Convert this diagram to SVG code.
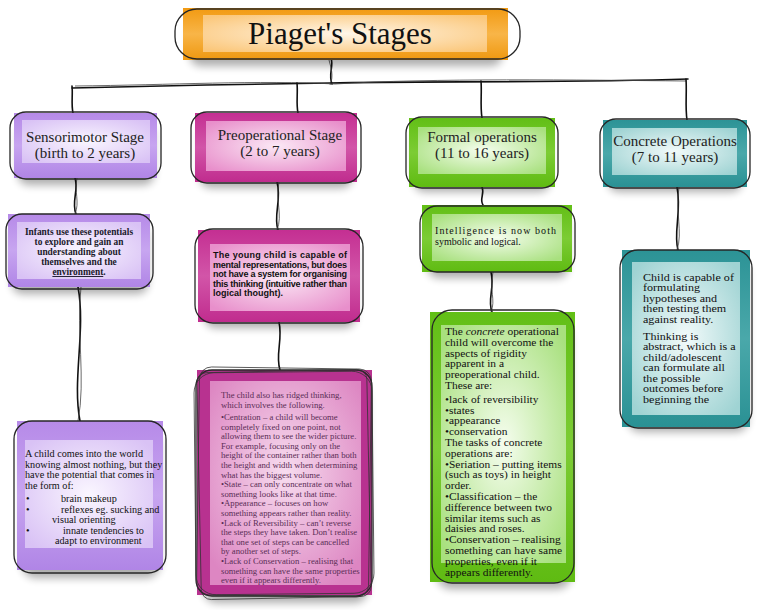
<svg xmlns="http://www.w3.org/2000/svg" width="765" height="610" viewBox="0 0 765 610">
<style>
.ol{fill:none;stroke:#262626;stroke-width:1.3}
.ol2{fill:none;stroke:#333;stroke-width:0.8}
.sh{fill:#000;opacity:0.32}
.cn{fill:none;stroke:#111;stroke-width:1.6;stroke-linecap:round}
.cn2{fill:none;stroke:#444;stroke-width:0.8}
</style>
<defs>
<filter id="blur" x="-20%" y="-20%" width="140%" height="140%"><feGaussianBlur stdDeviation="4"/></filter>
<filter id="soft" x="-5%" y="-5%" width="110%" height="110%"><feGaussianBlur stdDeviation="0.35"/></filter>
<radialGradient id="gP" cx="50%" cy="50%" r="65%"><stop offset="0" stop-color="#faf6ff"/><stop offset="1" stop-color="#d9c2f5"/></radialGradient>
<radialGradient id="gM" cx="50%" cy="50%" r="65%"><stop offset="0" stop-color="#fbe8f5"/><stop offset="1" stop-color="#e88fcb"/></radialGradient>
<radialGradient id="gG" cx="50%" cy="50%" r="65%"><stop offset="0" stop-color="#f5fdee"/><stop offset="1" stop-color="#a8e07e"/></radialGradient>
<radialGradient id="gT" cx="50%" cy="50%" r="65%"><stop offset="0" stop-color="#f2fafa"/><stop offset="1" stop-color="#9fd3d3"/></radialGradient>
<radialGradient id="gO" cx="50%" cy="50%" r="65%"><stop offset="0" stop-color="#fff6e8"/><stop offset="1" stop-color="#fbc77a"/></radialGradient>
<radialGradient id="gMB" cx="50%" cy="45%" r="65%"><stop offset="0" stop-color="#f7dcef"/><stop offset="1" stop-color="#dd86c2"/></radialGradient>
<linearGradient id="oP" x1="0" y1="0" x2="0" y2="1"><stop offset="0" stop-color="#b68ae8"/><stop offset="0.5" stop-color="#c7a5f0"/><stop offset="1" stop-color="#b085e6"/></linearGradient>
<linearGradient id="oM" x1="0" y1="0" x2="0" y2="1"><stop offset="0" stop-color="#c42f92"/><stop offset="0.5" stop-color="#d255a8"/><stop offset="1" stop-color="#c02c8e"/></linearGradient>
<linearGradient id="oG" x1="0" y1="0" x2="0" y2="1"><stop offset="0" stop-color="#62bf16"/><stop offset="0.5" stop-color="#7ccc34"/><stop offset="1" stop-color="#5fbb12"/></linearGradient>
<linearGradient id="oT" x1="0" y1="0" x2="0" y2="1"><stop offset="0" stop-color="#2c9396"/><stop offset="0.5" stop-color="#4aa8aa"/><stop offset="1" stop-color="#2a9194"/></linearGradient>
<linearGradient id="oO" x1="0" y1="0" x2="0" y2="1"><stop offset="0" stop-color="#f29a12"/><stop offset="0.5" stop-color="#f8b548"/><stop offset="1" stop-color="#ef9810"/></linearGradient>
</defs>
<rect width="765" height="610" fill="#fff"/>

<g id="connectors">
<path class="cn" d="M331,58 C334,66 328,74 332,84"/>
<path class="cn2" d="M329,60 C331,68 334,76 330,85"/>
<path class="cn" d="M72,88 C150,86 250,84 330,83 C420,81 560,83 688,79"/>
<path class="cn2" d="M75,86 C170,85 260,80 335,84 C430,78 580,80 686,81"/>
<path class="cn" d="M72,86 C73,95 71,104 73,113"/>
<path class="cn" d="M297,83 C298,93 296,104 298,113"/>
<path class="cn" d="M481,81 C482,93 480,106 482,118"/>
<path class="cn" d="M686,79 C687,93 685,106 687,120"/>
<path class="cn" d="M75,178 C79,190 71,202 76,214"/>
<path class="cn2" d="M77,178 C74,192 80,202 75,214"/>
<path class="cn" d="M78,287 C86,330 72,380 80,421"/>
<path class="cn2" d="M81,287 C76,330 86,380 78,421"/>
<path class="cn" d="M277,182 C282,200 273,215 278,230"/>
<path class="cn2" d="M279,182 C275,200 283,215 277,230"/>
<path class="cn" d="M279,322 C283,340 275,355 280,370"/>
<path class="cn" d="M482,187 C485,194 479,199 483,205"/>
<path class="cn" d="M491,272 C495,288 487,300 492,312"/>
<path class="cn2" d="M493,272 C489,290 496,300 491,312"/>
<path class="cn" d="M677,187 C682,212 673,232 678,250"/>
<path class="cn2" d="M679,187 C675,212 683,232 677,250"/>
</g>

<g id="title">
<rect class="sh" x="190" y="20" width="312" height="46" rx="10" filter="url(#blur)"/>
<rect x="183" y="8" width="325" height="52" fill="url(#oO)"/>
<rect x="203" y="15" width="284" height="37" fill="url(#gO)"/>
<rect class="ol" x="175" y="9" width="345" height="50" rx="22"/>
<text x="340" y="44" font-family="Liberation Serif,'Times New Roman',serif" font-size="31" fill="#111" text-anchor="middle">Piaget's Stages</text>
</g>

<g id="sensorimotor">
<rect class="sh" x="18" y="125" width="136" height="60" rx="10" filter="url(#blur)"/>
<rect x="14" y="113" width="143" height="65" fill="url(#oP)"/>
<rect x="22" y="120" width="128" height="43" fill="url(#gP)"/>
<rect class="ol" x="10" y="112" width="151" height="67" rx="16"/>
<g font-family="Liberation Serif,'Times New Roman',serif" font-size="15" fill="#222" text-anchor="middle">
<text x="85" y="142">Sensorimotor Stage</text>
<text x="85" y="158">(birth to 2 years)</text>
</g>
</g>

<g id="sensorimotor-infants">
<rect class="sh" x="12" y="226" width="136" height="68" rx="10" filter="url(#blur)"/>
<rect x="8" y="214" width="142" height="73" fill="url(#oP)"/>
<rect x="17" y="222" width="124" height="57" fill="url(#gP)"/>
<rect class="ol" x="6" y="214" width="147" height="75" rx="16"/>
<g font-family="Liberation Serif,'Times New Roman',serif" font-size="9.4" font-weight="bold" text-anchor="middle" fill="#1a1a2a">
<text x="79" y="235">Infants use these potentials</text>
<text x="79" y="245">to explore and gain an</text>
<text x="79" y="255">understanding about</text>
<text x="79" y="265">themselves and the</text>
<text x="79" y="275"><tspan text-decoration="underline">environment</tspan>.</text>
</g>
</g>

<g id="sensorimotor-child">
<rect class="sh" x="22" y="432" width="138" height="146" rx="14" filter="url(#blur)"/>
<rect x="17" y="421" width="146" height="149" fill="url(#oP)"/>
<rect x="25" y="440" width="128" height="108" fill="url(#gP)"/>
<rect class="ol" x="14" y="421" width="152" height="152" rx="18"/>
<g font-family="Liberation Serif,'Times New Roman',serif" font-size="10.2" fill="#111">
<text x="25" y="457">A child comes into the world</text>
<text x="25" y="467.5">knowing almost nothing, but they</text>
<text x="25" y="478">have the potential that comes in</text>
<text x="25" y="488.5">the form of:</text>
<text x="26" y="502">•</text><text x="61" y="502">brain makeup</text>
<text x="26" y="512.5">•</text><text x="61" y="512.5">reflexes eg. sucking and</text>
<text x="52" y="523">visual orienting</text>
<text x="26" y="533.5">•</text><text x="63" y="533.5">innate tendencies to</text>
<text x="55" y="544">adapt to environment</text>
</g>
</g>

<g id="preoperational">
<rect class="sh" x="200" y="125" width="152" height="63" rx="10" filter="url(#blur)"/>
<rect x="195" y="113" width="162" height="69" fill="url(#oM)"/>
<rect x="206" y="121" width="140" height="50" fill="url(#gM)"/>
<rect class="ol" x="191" y="112" width="170" height="71" rx="16"/>
<g font-family="Liberation Serif,'Times New Roman',serif" font-size="15" fill="#222" text-anchor="middle">
<text x="280" y="140">Preoperational Stage</text>
<text x="280" y="156">(2 to 7 years)</text>
</g>
</g>

<g id="preoperational-young">
<rect class="sh" x="204" y="242" width="152" height="86" rx="12" filter="url(#blur)"/>
<rect x="198" y="230" width="162" height="92" fill="url(#oM)"/>
<rect x="210" y="244" width="140" height="67" fill="url(#gM)"/>
<rect class="ol" x="195" y="229" width="168" height="94" rx="18"/>
<g font-family="Liberation Sans,Arial,sans-serif" font-size="9" font-weight="bold" fill="#111">
<text x="213" y="258" textLength="134" lengthAdjust="spacing">The young child is capable of</text>
<text x="213" y="267.5" textLength="134" lengthAdjust="spacing">mental representations, but does</text>
<text x="213" y="277" textLength="134" lengthAdjust="spacing">not have a system for organising</text>
<text x="213" y="286.5" textLength="134" lengthAdjust="spacing">this thinking (intuitive rather than</text>
<text x="213" y="296">logical thought).</text>
</g>
</g>

<g id="preoperational-ridged">
<rect class="sh" x="203" y="385" width="165" height="218" rx="14" filter="url(#blur)"/>
<rect x="197" y="370" width="175" height="225" fill="#b83090" filter="url(#soft)"/>
<rect x="210" y="381" width="151" height="204" fill="url(#gMB)" filter="url(#soft)"/>
<rect class="ol" x="196" y="370" width="176" height="226" rx="16"/>
<rect class="ol2" x="198" y="368" width="172" height="228" rx="12" transform="rotate(0.8 284 482)"/>
<rect class="ol2" x="195" y="372" width="178" height="222" rx="20" transform="rotate(-0.6 284 482)"/>
<rect class="ol2" x="199" y="371" width="170" height="227" rx="10" transform="rotate(-1.2 284 482)"/>
<g font-family="Liberation Serif,'Times New Roman',serif" font-size="8.7" fill="#5a2d55">
<text x="221" y="398">The child also has ridged thinking,</text>
<text x="221" y="407.6">which involves the following.</text>
<text x="221" y="420">•Centration – a child will become</text>
<text x="221" y="429.6">completely fixed on one point, not</text>
<text x="221" y="439.2">allowing them to see the wider picture.</text>
<text x="221" y="448.8">For example, focusing only on the</text>
<text x="221" y="458.4">height of the container rather than both</text>
<text x="221" y="468">the height and width when determining</text>
<text x="221" y="477.6">what has the biggest volume.</text>
<text x="221" y="487.2">•State – can only concentrate on what</text>
<text x="221" y="496.8">something looks like at that time.</text>
<text x="221" y="506.4">•Appearance – focuses on how</text>
<text x="221" y="516">something appears rather than reality.</text>
<text x="221" y="525.6">•Lack of Reversibility – can’t reverse</text>
<text x="221" y="535.2">the steps they have taken. Don’t realise</text>
<text x="221" y="544.8">that one set of steps can be cancelled</text>
<text x="221" y="554.4">by another set of steps.</text>
<text x="221" y="564">•Lack of Conservation – realising that</text>
<text x="221" y="573.6">something can have the same properties</text>
<text x="221" y="583.2">even if it appears differently.</text>
</g>
</g>

<g id="formal">
<rect class="sh" x="414" y="130" width="136" height="62" rx="10" filter="url(#blur)"/>
<rect x="409" y="118" width="146" height="69" fill="url(#oG)"/>
<rect x="418" y="127" width="128" height="47" fill="url(#gG)"/>
<rect class="ol" x="406" y="117" width="152" height="71" rx="16"/>
<g font-family="Liberation Serif,'Times New Roman',serif" font-size="15" fill="#222" text-anchor="middle">
<text x="482" y="142">Formal operations</text>
<text x="482" y="158">(11 to 16 years)</text>
</g>
</g>

<g id="formal-intelligence">
<rect class="sh" x="428" y="216" width="140" height="62" rx="10" filter="url(#blur)"/>
<rect x="422" y="205" width="150" height="67" fill="url(#oG)"/>
<rect x="432" y="214" width="130" height="47" fill="url(#gG)"/>
<rect class="ol" x="420" y="206" width="155" height="66" rx="17"/>
<g font-family="Liberation Serif,'Times New Roman',serif" font-size="10" fill="#111">
<text x="435" y="234" textLength="121" lengthAdjust="spacing">Intelligence is now both</text>
<text x="435" y="245">symbolic and logical.</text>
</g>
</g>

<g id="formal-concrete">
<rect class="sh" x="437" y="325" width="134" height="264" rx="14" filter="url(#blur)"/>
<rect x="430" y="312" width="145" height="270" fill="url(#oG)"/>
<rect x="441" y="325" width="125" height="238" fill="url(#gG)"/>
<rect class="ol" x="432" y="310" width="142" height="273" rx="20"/>
<g font-family="Liberation Serif,'Times New Roman',serif" font-size="10.8" fill="#111" transform="translate(445 0) scale(1.06 1)">
<text x="0" y="335">The <tspan font-style="italic">concrete</tspan> operational</text>
<text x="0" y="345.8">child will overcome the</text>
<text x="0" y="356.6">aspects of rigidity</text>
<text x="0" y="367.4">apparent in a</text>
<text x="0" y="378.2">preoperational child.</text>
<text x="0" y="389">These are:</text>
<text x="0" y="402.8">•lack of reversibility</text>
<text x="0" y="413.6">•states</text>
<text x="0" y="424.4">•appearance</text>
<text x="0" y="435.2">•conservation</text>
<text x="0" y="446">The tasks of concrete</text>
<text x="0" y="456.8">operations are:</text>
<text x="0" y="467.6">•Seriation – putting items</text>
<text x="0" y="478.4">(such as toys) in height</text>
<text x="0" y="489.2">order.</text>
<text x="0" y="500">•Classification – the</text>
<text x="0" y="510.8">difference between two</text>
<text x="0" y="521.6">similar items such as</text>
<text x="0" y="532.4">daisies and roses.</text>
<text x="0" y="543.2">•Conservation – realising</text>
<text x="0" y="554">something can have same</text>
<text x="0" y="564.8">properties, even if it</text>
<text x="0" y="575.6">appears differently.</text>
</g>
</g>

<g id="concrete">
<rect class="sh" x="608" y="132" width="134" height="60" rx="10" filter="url(#blur)"/>
<rect x="603" y="120" width="144" height="67" fill="url(#oT)"/>
<rect x="612" y="128" width="125" height="47" fill="url(#gT)"/>
<rect class="ol" x="600" y="119" width="150" height="69" rx="16"/>
<g font-family="Liberation Serif,'Times New Roman',serif" font-size="15" fill="#222" text-anchor="middle">
<text x="675" y="146">Concrete Operations</text>
<text x="675" y="162">(7 to 11 years)</text>
</g>
</g>

<g id="concrete-hypotheses">
<rect class="sh" x="628" y="262" width="120" height="170" rx="12" filter="url(#blur)"/>
<rect x="622" y="250" width="128" height="177" fill="url(#oT)"/>
<rect x="632" y="262" width="108" height="153" fill="url(#gT)"/>
<rect class="ol" x="620" y="250" width="132" height="178" rx="18"/>
<g font-family="Liberation Serif,'Times New Roman',serif" font-size="10.8" fill="#111" transform="translate(643 0) scale(1.12 1)">
<text x="0" y="281">Child is capable of</text>
<text x="0" y="291.5">formulating</text>
<text x="0" y="302">hypotheses and</text>
<text x="0" y="312.5">then testing them</text>
<text x="0" y="323">against reality.</text>
<text x="0" y="340">Thinking is</text>
<text x="0" y="350.5">abstract, which is a</text>
<text x="0" y="361">child/adolescent</text>
<text x="0" y="371.5">can formulate all</text>
<text x="0" y="382">the possible</text>
<text x="0" y="392.5">outcomes before</text>
<text x="0" y="403">beginning the</text>
</g>
</g>
</svg>
